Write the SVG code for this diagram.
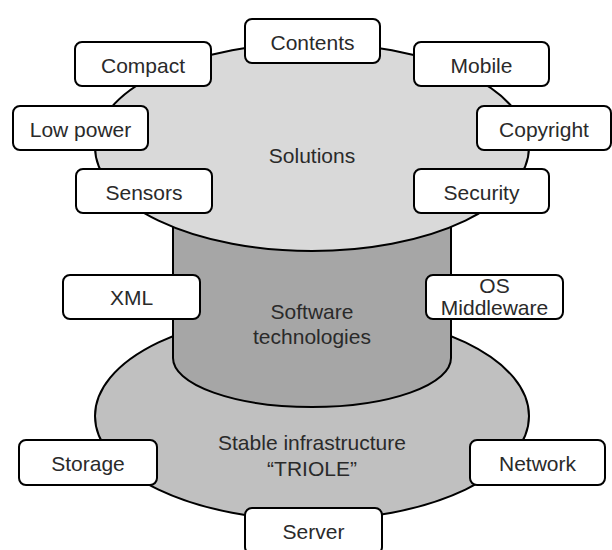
<svg xmlns="http://www.w3.org/2000/svg" width="612" height="550" viewBox="0 0 612 550">
<style>
.box{fill:#ffffff;stroke:#000000;stroke-width:2}
.t{font-family:"Liberation Sans",Arial,sans-serif;font-size:21px;fill:#2a2a2a;text-anchor:middle}
.shape{stroke:#000000;stroke-width:2}
</style>
<rect width="612" height="550" fill="#ffffff"/>
<g id="infrastructure">
<ellipse class="shape" cx="312" cy="416" rx="217" ry="104" fill="#c0c0c0"/>
<text class="t" x="312" y="450">Stable infrastructure</text>
<text class="t" x="312" y="476">“TRIOLE”</text>
</g>
<g id="software">
<path class="shape" d="M173,150 L173,358 A139,49 0 0 0 451,358 L451,150 Z" fill="#a6a6a6"/>
<text class="t" x="312" y="319">Software</text>
<text class="t" x="312" y="344">technologies</text>
</g>
<g id="solutions">
<ellipse class="shape" cx="312" cy="147" rx="217" ry="104" fill="#d9d9d9"/>
<text class="t" x="312" y="163">Solutions</text>
</g>
<g id="connectors"></g>
<g id="contents"><rect class="box" x="245" y="19" width="135" height="44" rx="7"/><text class="t" x="312.5" y="50">Contents</text></g>
<g id="compact"><rect class="box" x="75" y="42" width="136" height="44" rx="7"/><text class="t" x="143" y="73">Compact</text></g>
<g id="mobile"><rect class="box" x="414" y="42" width="135" height="44" rx="7"/><text class="t" x="481.5" y="73">Mobile</text></g>
<g id="lowpower"><rect class="box" x="13" y="106" width="135" height="44" rx="7"/><text class="t" x="80.5" y="137">Low power</text></g>
<g id="copyright"><rect class="box" x="477" y="106" width="134" height="44" rx="7"/><text class="t" x="544" y="137">Copyright</text></g>
<g id="sensors"><rect class="box" x="76" y="169" width="136" height="44" rx="7"/><text class="t" x="144" y="200">Sensors</text></g>
<g id="security"><rect class="box" x="414" y="169" width="135" height="44" rx="7"/><text class="t" x="481.5" y="200">Security</text></g>
<g id="xml"><rect class="box" x="63" y="275" width="137" height="44" rx="7"/><text class="t" x="131.5" y="305">XML</text></g>
<g id="osmiddleware"><rect class="box" x="426" y="275" width="137" height="44" rx="7"/><text class="t" x="494.5" y="293">OS</text><text class="t" x="494.5" y="315">Middleware</text></g>
<g id="storage"><rect class="box" x="19" y="440" width="138" height="45" rx="7"/><text class="t" x="88" y="471">Storage</text></g>
<g id="network"><rect class="box" x="470" y="440" width="135" height="45" rx="7"/><text class="t" x="537.5" y="471">Network</text></g>
<g id="server"><rect class="box" x="245" y="508" width="137" height="46" rx="7"/><text class="t" x="313.5" y="539">Server</text></g>
</svg>
